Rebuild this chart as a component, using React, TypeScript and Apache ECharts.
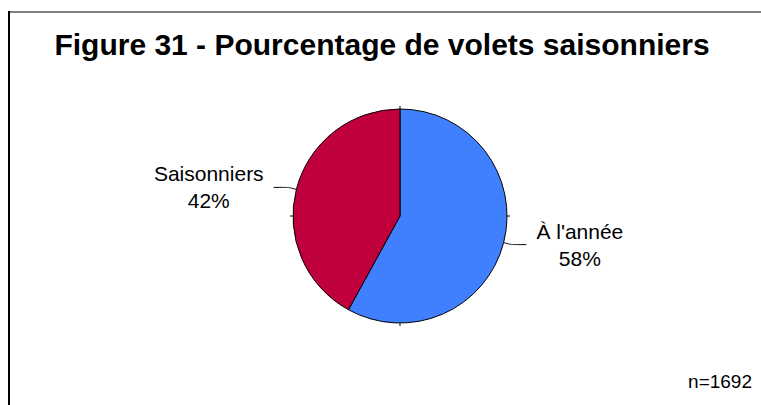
import React, { useEffect, useRef } from "react";
import * as echarts from "echarts";

const TITLE = "Figure 31 - Pourcentage de volets saisonniers";
const NOTE = "n=1692";
const categories = ["À l'année", "Saisonniers"];
const percents = [58, 42];
const colors = ["#4080FF", "#C0003C"];

const FONT = "'Liberation Sans', Arial, Helvetica, sans-serif";

export default function App() {
  const ref = useRef<HTMLDivElement>(null);
  useEffect(() => {
    if (!ref.current) return;
    const chart = echarts.init(ref.current, null, { renderer: "svg" });
    const cx = 400;
    const cy = 216;
    const r = 107;
    chart.setOption({
      animation: false,
      backgroundColor: "#ffffff",
      graphic: [
        { type: "line", shape: { x1: 9, y1: 11, x2: 9, y2: 405 }, style: { stroke: "#000", lineWidth: 2 } },
        { type: "line", shape: { x1: 8, y1: 12, x2: 761, y2: 12 }, style: { stroke: "#000", lineWidth: 1 } },
        {
          type: "text",
          x: 382,
          y: 44,
          style: { text: TITLE, font: `bold 30px ${FONT}`, fill: "#000", align: "center", verticalAlign: "middle" },
        },
        {
          type: "text",
          x: 752,
          y: 381,
          style: { text: NOTE, font: `19px ${FONT}`, fill: "#000", align: "right", verticalAlign: "middle" },
        },
        { type: "line", z: 10, shape: { x1: cx, y1: cy - r - 3, x2: cx, y2: cy - r }, style: { stroke: "#000", lineWidth: 1 } },
        { type: "line", z: 10, shape: { x1: cx, y1: cy + r, x2: cx, y2: cy + r + 3 }, style: { stroke: "#000", lineWidth: 1 } },
        { type: "line", z: 10, shape: { x1: cx - r - 3, y1: cy, x2: cx - r, y2: cy }, style: { stroke: "#000", lineWidth: 1 } },
        { type: "line", z: 10, shape: { x1: cx + r, y1: cy, x2: cx + r + 3, y2: cy }, style: { stroke: "#000", lineWidth: 1 } },
      ],
      series: [
        {
          type: "pie",
          center: [cx, cy],
          radius: r,
          startAngle: 90,
          clockwise: true,
          itemStyle: { borderColor: "#000", borderWidth: 1 },
          emphasis: { disabled: true },
          label: {
            show: true,
            position: "outside",
            distanceToLabelLine: 10,
            formatter: (p: any) => `{c|${p.name}}\n{c|${p.value}%}`,
            rich: {
              c: { align: "center", fontSize: 21, lineHeight: 27, fontFamily: FONT, color: "#000" },
            },
          },
          labelLine: {
            show: true,
            length: 8,
            length2: 15,
            smooth: 0.2,
            lineStyle: { color: "#000", width: 1 },
          },
          data: categories.map((name, i) => ({
            name,
            value: percents[i],
            itemStyle: { color: colors[i] },
          })),
        },
      ],
    });
    return () => chart.dispose();
  }, []);
  return (
    <div
      ref={ref}
      style={{ position: "fixed", left: 0, top: 0, width: 761, height: 405 }}
    />
  );
}
